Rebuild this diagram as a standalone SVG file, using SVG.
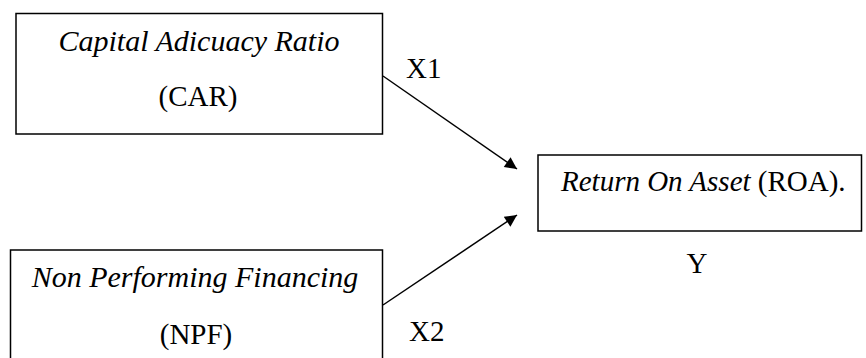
<svg xmlns="http://www.w3.org/2000/svg" width="866" height="358" viewBox="0 0 866 358">
<style>
.box{fill:#fff;stroke:#000;stroke-width:1.5}
text{font-family:'Liberation Serif','Times New Roman',Times,serif;font-size:29px;fill:#000}
.it{font-style:italic}
.big{font-size:30px}
.c{text-anchor:middle}
.ln{stroke:#000;stroke-width:1.5;fill:none}
</style>
<defs>
<marker id="ah" viewBox="0 0 10 10" refX="10" refY="5" markerWidth="10" markerHeight="8" markerUnits="strokeWidth" orient="auto">
<path d="M0,0 L10,5 L0,10 z" fill="#000"/>
</marker>
</defs>
<g id="car">
<rect class="box" x="16" y="13.5" width="366.5" height="120.5"/>
<text class="it c big" x="199" y="51">Capital Adicuacy Ratio</text>
<text class="c" x="198" y="106">(CAR)</text>
</g>
<g id="npf">
<rect class="box" x="10.5" y="250" width="372" height="112"/>
<text class="it c big" x="195" y="287">Non Performing Financing</text>
<text class="c" x="196" y="344">(NPF)</text>
</g>
<g id="roa">
<rect class="box" x="538" y="155" width="323.5" height="76"/>
<text x="561" y="191"><tspan class="it">Return On Asset</tspan> (ROA).</text>
</g>
<g id="connectors">
<line class="ln" x1="383" y1="76" x2="517" y2="169" marker-end="url(#ah)"/>
<line class="ln" x1="383" y1="305" x2="517" y2="215" marker-end="url(#ah)"/>
</g>
<g id="labels">
<text x="406" y="78">X1</text>
<text x="409" y="341">X2</text>
<text class="c" x="697" y="273">Y</text>
</g>
</svg>
